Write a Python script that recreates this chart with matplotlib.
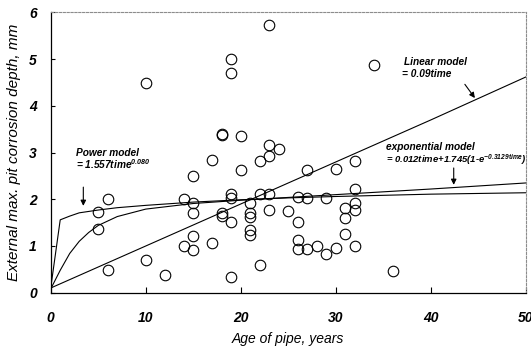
#!/usr/bin/env python3

import matplotlib; matplotlib.use('Agg')
import numpy as np
from matplotlib import pyplot as plt

plt.rcParams.update({
    'font.family': 'Liberation Sans',
    'font.weight': 'bold',
    'font.style': 'italic',
    'mathtext.fontset': 'custom',
    'mathtext.rm': 'Liberation Sans:bold:italic',
    'mathtext.it': 'Liberation Sans:bold:italic',
    'mathtext.bf': 'Liberation Sans:bold:italic',
    'mathtext.default': 'rm',
})

# measured pit depths (age in years, depth in mm)
age = [5, 6, 5, 6, 10, 10, 12, 14, 14, 15, 15, 15, 15, 15, 17, 17, 18, 18, 18, 18,
       19, 19, 19, 19, 19, 19, 20, 20, 21, 21, 21, 21, 21, 22, 22, 22, 23, 23, 23, 23,
       23, 24, 25, 26, 26, 26, 26, 27, 27, 27, 28, 29, 29, 30, 30, 31, 31, 31, 32, 32,
       32, 32, 32, 34, 36]
depth = [1.72, 2.0, 1.37, 0.48, 4.5, 0.69, 0.38, 2.0, 1.0, 2.5, 1.92, 1.7, 1.22, 0.92,
         2.84, 1.07, 3.37, 3.4, 1.7, 1.64, 5.0, 4.7, 2.12, 2.02, 1.52, 0.34, 3.35, 2.62,
         1.92, 1.7, 1.62, 1.35, 1.24, 2.83, 2.12, 0.6, 5.73, 3.17, 2.93, 2.12, 1.77, 3.08,
         1.75, 2.04, 1.52, 1.13, 0.93, 2.62, 2.03, 0.93, 1.0, 2.02, 0.83, 2.64, 0.95, 1.81,
         1.6, 1.26, 2.83, 2.22, 1.92, 1.77, 0.99, 4.87, 0.47]

# model curves
t_lin = [0, 10, 20, 30, 40, 50]
y_lin = [0.1, 1.0, 1.9, 2.8, 3.7, 4.62]

t_pow = [0, 1, 2, 3, 5, 7, 10, 15, 20, 25, 30, 40, 50]
y_pow = [0.1, 1.56, 1.64, 1.71, 1.77, 1.82, 1.87, 1.94, 1.99, 2.03, 2.06, 2.11, 2.14]

t_exp = [0, 1, 2, 3, 4, 5, 7, 10, 15, 20, 30, 40, 50]
y_exp = [0.08, 0.48, 0.84, 1.1, 1.29, 1.44, 1.63, 1.79, 1.91, 1.98, 2.1, 2.22, 2.35]

fig = plt.figure(figsize=(5.31, 3.52), dpi=100)
ax = fig.add_axes([0.0955, 0.1685, 0.895, 0.796])

ax.plot(t_lin, y_lin, color='black', lw=0.8)
ax.plot(t_pow, y_pow, color='black', lw=0.8)
ax.plot(t_exp, y_exp, color='black', lw=0.8)
ax.plot(age, depth, 'o', mfc='none', mec='black', ms=7.6, mew=0.8, clip_on=False)

ax.set_xlim(0, 50)
ax.set_ylim(0, 6)
ax.set_xticks([0, 10, 20, 30, 40, 50])
ax.set_yticks([0, 1, 2, 3, 4, 5, 6])
ax.tick_params(axis='x', direction='in', length=4, width=0.8, pad=13, labelsize=10)
ax.tick_params(axis='y', direction='in', length=3, width=0.8, pad=10, labelsize=10)
ax.tick_params(top=False, right=False)

for s in ['top', 'right']:
    ax.spines[s].set_linestyle((0, (2, 1.5)))
    ax.spines[s].set_color('0.55')
    ax.spines[s].set_linewidth(0.8)
for s in ['left', 'bottom']:
    ax.spines[s].set_linewidth(0.9)

ax.set_xlabel('Age of pipe, years', fontsize=10, labelpad=5)
ax.set_ylabel('External max. pit corrosion depth, mm', fontsize=11, labelpad=6)

# annotations
ax.text(2.7, 3.0, 'Power model', fontsize=7.3, va='center')
ax.text(2.7, 2.75, r'= 1.557time$^{0.080}$', fontsize=7.3, va='center')
ax.annotate('', xy=(3.43, 1.8), xytext=(3.43, 2.32),
            arrowprops=dict(arrowstyle='-|>', color='black', lw=0.8, mutation_scale=8))

ax.text(37.2, 4.95, 'Linear model', fontsize=7.3, va='center')
ax.text(37.0, 4.68, '= 0.09time', fontsize=7.3, va='center')
ax.annotate('', xy=(44.8, 4.12), xytext=(43.4, 4.51),
            arrowprops=dict(arrowstyle='-|>', color='black', lw=0.8, mutation_scale=8))

ax.text(35.3, 3.13, 'exponential model', fontsize=7.3, va='center')
ax.text(35.3, 2.84, r'= 0.012time+1.745(1-e$^{-0.3129time}$)', fontsize=6.8, va='center')
ax.annotate('', xy=(42.4, 2.25), xytext=(42.4, 2.73),
            arrowprops=dict(arrowstyle='-|>', color='black', lw=0.8, mutation_scale=8))

plt.savefig('out.png', dpi=100)
plt.close()
